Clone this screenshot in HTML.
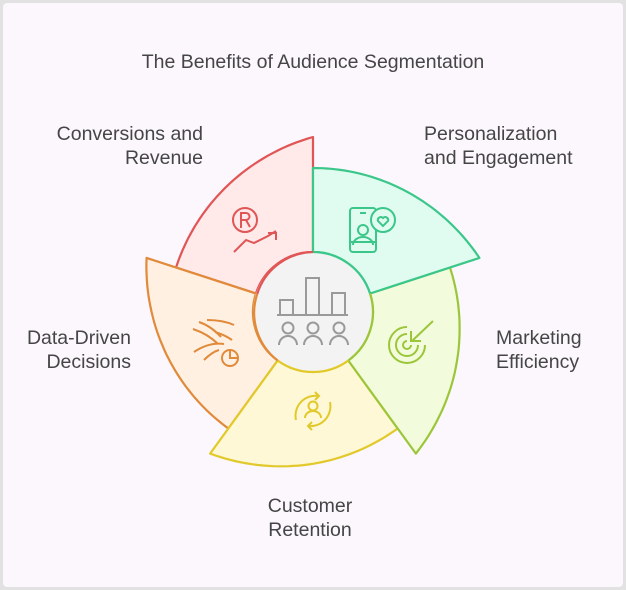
<!DOCTYPE html>
<html><head><meta charset="utf-8"><style>
html,body{margin:0;padding:0;background:#e2e2e2;}
.wrap{position:absolute;left:3px;top:3px;width:620px;height:584px;background:#fbf7fd;border-radius:4px;}
svg{position:absolute;left:0;top:0;}
text{font-family:"Liberation Sans",sans-serif;font-size:19.5px;fill:#454545;}
</style></head><body>
<div class="wrap"></div>
<svg width="626" height="590" viewBox="0 0 626 590" id="s">
<g id="segs"></g>
<circle cx="313" cy="312" r="60" fill="#f3f3f3" stroke="none"/>
<g fill="none" stroke-width="2.2">
<path d="M257.2,294 A60,60 0 0 1 313,252" stroke="#e05555"/>
<path d="M313,252 A60,60 0 0 1 370,293.5" stroke="#3cc78a"/>
<path d="M370,293.5 A60,60 0 0 1 348.3,360.5" stroke="#9cc63a"/>
<path d="M348.3,360.5 A60,60 0 0 1 277.7,360.5" stroke="#e2c92a"/>
<path d="M277.7,360.5 A60,60 0 0 1 257.2,294" stroke="#e08a3a"/>
</g>
<g fill="none" stroke="#9a9a9a" stroke-width="2">
<rect x="280" y="300" width="13" height="15"/><rect x="306" y="278" width="13" height="37"/><rect x="332" y="293" width="13" height="22"/>
<line x1="277" y1="315" x2="348" y2="315"/>
<circle cx="288" cy="328" r="5.5"/><path d="M279,345 a9,9 0 0 1 18,0"/>
<circle cx="313" cy="328" r="5.5"/><path d="M304,345 a9,9 0 0 1 18,0"/>
<circle cx="339" cy="328" r="5.5"/><path d="M330,345 a9,9 0 0 1 18,0"/>
</g>
<g fill="none" stroke="#e05555" stroke-width="2">
<circle cx="245" cy="220" r="12"/><path d="M241,228 v-15 h5 a3.5,3.5 0 0 1 0,7 h-5 M246,220 l4,7"/>
<path d="M234,252 l12,-12 l8,3 l14,-7 l8,-5 M268,233 h8 v7"/>
</g>
<g fill="none" stroke="#3cc78a" stroke-width="2">
<rect x="350" y="208" width="26" height="44" rx="3"/><line x1="360" y1="213" x2="366" y2="213"/>
<circle cx="363" cy="230" r="5"/><path d="M353,245 a10,8 0 0 1 20,0"/><line x1="350" y1="242" x2="376" y2="242"/>
<circle cx="383" cy="220" r="12" fill="#e0fbef"/><path d="M383,226 l-5,-5 a3,3 0 0 1 5,-3 a3,3 0 0 1 5,3 z"/>
</g>
<g fill="none" stroke="#9cc63a" stroke-width="2">
<path d="M425,345 a18,18 0 1 1 -18,-18 M418,345 a11,11 0 1 1 -11,-11 M411,345 a4,4 0 1 1 -4,-4"/>
<path d="M433,321 l-21,20 M411,331 v10 h10"/>
</g>
<g fill="none" stroke="#e2c92a" stroke-width="2">
<circle cx="313" cy="406" r="4.5"/><path d="M305,418 a8,7 0 0 1 16,0"/>
<path d="M296,420 a20,20 0 0 1 23,-24 M330,402 a20,20 0 0 1 -22,24 M315,392 l4,4 l-4,4 M312,422 l-4,4 l4,4"/>
</g>
<g fill="none" stroke="#e08a3a" stroke-width="2">
<path d="M193,329 q15,5 25,15 M199,322 q12,4 22,15 M207,320 q16,0 27,5 M215,332 q10,3 17,8 M194,352 q15,-10 30,-8 M204,360 q8,-8 15,-10"/>
<circle cx="230" cy="358" r="8"/><path d="M230,350 v8 h8"/>
</g>
<text x="313" y="68" text-anchor="middle">The Benefits of Audience Segmentation</text>
<text x="203" y="140" text-anchor="end">Conversions and</text>
<text x="203" y="164" text-anchor="end">Revenue</text>
<text x="424" y="140">Personalization</text>
<text x="424" y="164">and Engagement</text>
<text x="496" y="344">Marketing</text>
<text x="496" y="368">Efficiency</text>
<text x="131" y="344" text-anchor="end">Data-Driven</text>
<text x="131" y="368" text-anchor="end">Decisions</text>
<text x="310" y="512" text-anchor="middle">Customer</text>
<text x="310" y="536" text-anchor="middle">Retention</text>
</svg>
<script>
(function(){
var cx=313,cy=312,ri=60,r0=144,r1=175;
var segs=[[-90,"#3cc78a","#e0fbef"],[-18,"#9cc63a","#f2fcdc"],[54,"#e2c92a","#fff8d6"],[126,"#e08a3a","#fff0e2"],[198,"#e05555","#ffe9e9"]];
var order=[4,3,2,1,0];
var g=document.getElementById("segs");var ns="http://www.w3.org/2000/svg";
order.forEach(function(i){
 var a0=segs[i][0],a1=a0+72,d="",n=40;
 function P(a,r){var t=a*Math.PI/180;return (cx+r*Math.cos(t)).toFixed(1)+","+(cy+r*Math.sin(t)).toFixed(1);}
 d="M"+P(a0,ri)+" L"+P(a0,r0);
 for(var k=1;k<=n;k++){var f=k/n;d+=" L"+P(a0+72*f,r0+(r1-r0)*f*f);}
 d+=" L"+P(a1,ri)+" A"+ri+","+ri+" 0 0 0 "+P(a0,ri)+"Z";
 var p=document.createElementNS(ns,"path");p.setAttribute("d",d);p.setAttribute("fill",segs[i][2]);
 p.setAttribute("stroke",segs[i][1]);p.setAttribute("stroke-width","2.2");p.setAttribute("stroke-linejoin","round");
 g.appendChild(p);
});
})();
</script>
</body></html>
